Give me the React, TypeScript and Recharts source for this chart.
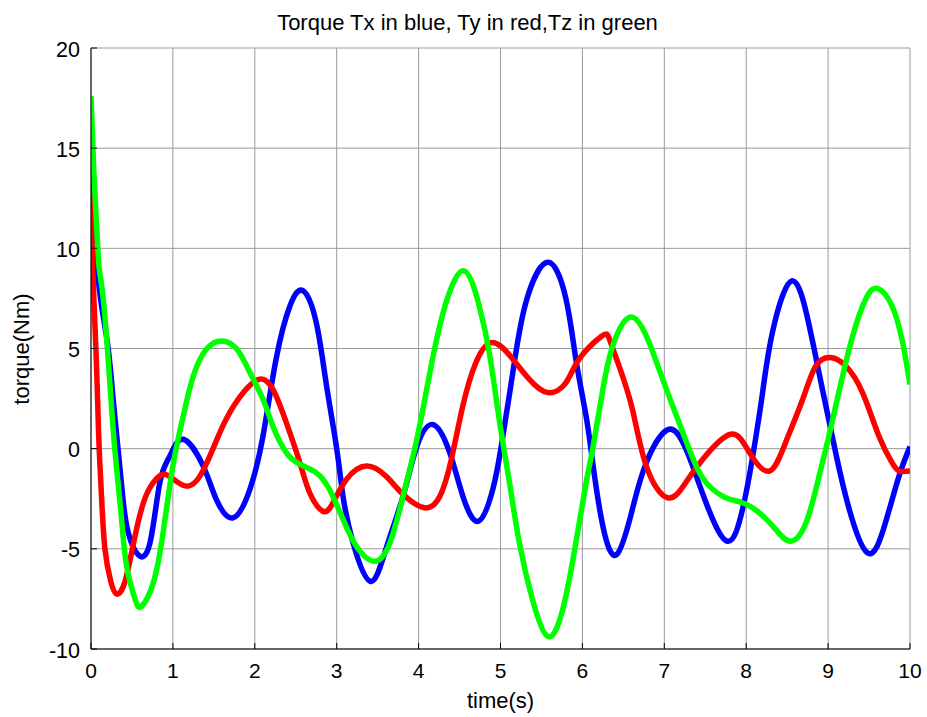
// Torque components Tx / Ty / Tz over time, MATLAB-style line plot

import { CartesianGrid, Line, LineChart, XAxis, YAxis } from "recharts";

const FONT = '"Liberation Sans", Arial, sans-serif';

const COLORS = {
  tx: "#0000FF",
  ty: "#FF0000",
  tz: "#00FF00",
};

const X_TICKS = [0, 1, 2, 3, 4, 5, 6, 7, 8, 9, 10];
const Y_TICKS = [-10, -5, 0, 5, 10, 15, 20];

// Tx (blue)
const txTime = [
  0, 0.03, 0.07, 0.13, 0.21, 0.27, 0.33, 0.39, 0.455, 0.577, 0.72, 0.84, 0.963, 1.126, 1.37, 1.53,
  1.735, 1.94, 2.1, 2.26, 2.43, 2.59, 2.75, 2.87, 3.0, 3.077, 3.2, 3.41, 3.6, 3.81, 3.97, 4.17,
  4.38, 4.54, 4.73, 4.906, 5.01, 5.15, 5.31, 5.577, 5.8, 5.92, 6.045, 6.126, 6.25, 6.42, 6.61,
  6.78, 7.06, 7.3, 7.51, 7.77, 7.955, 8.08, 8.2, 8.32, 8.557, 8.77, 8.93, 9.05, 9.215, 9.48, 9.7,
  9.866, 10,
];
const txValue = [
  12, 10.2, 9.0, 7.1, 5.0, 2.5, 0, -2.5, -4.2, -5.3, -4.7, -1.7, -0.37, 0.47, -0.87, -2.53,
  -3.45, -2.03, 0.63, 4.47, 7.13, 7.88, 6.3, 3.3, 0, -2.37, -4.7, -6.62, -5.03, -2.37, 0, 1.21,
  -0.2, -2.37, -3.62, -2.03, 0.13, 3.8, 7.3, 9.3, 7.47, 4.47, 1.63, -0.7, -3.87, -5.28, -3.03,
  -0.7, 0.97, -0.37, -2.7, -4.62, -3.03, -0.37, 2.8, 5.8, 8.38, 6.13, 2.97, 0.63, -2.37, -5.2, -3.7,
  -1.37, 0.1,
];

// Ty (red)
const tyTime = [
  0, 0.01, 0.03, 0.06, 0.08, 0.1, 0.13, 0.17, 0.24, 0.31, 0.41, 0.52, 0.64, 0.76, 0.88, 1.0,
  1.167, 1.33, 1.49, 1.65, 1.86, 2.06, 2.22, 2.385, 2.55, 2.67, 2.83, 2.955, 3.12, 3.36, 3.6,
  3.81, 4.07, 4.26, 4.4, 4.54, 4.7, 4.906, 5.15, 5.35, 5.577, 5.8, 5.96, 6.23, 6.33, 6.45, 6.61,
  6.78, 7.04, 7.26, 7.47, 7.81, 8.04, 8.28, 8.48, 8.69, 8.85, 9.03, 9.215, 9.42, 9.62, 9.78,
  9.87, 10,
];
const tyValue = [
  15, 11, 8, 5, 2.5, 0, -2.5, -5.0, -6.6, -7.25, -6.7, -4.7, -2.7, -1.7, -1.28, -1.5,
  -1.87, -1.37, 0, 1.47, 2.8, 3.47, 2.97, 1.3, -0.7, -2.2, -3.12, -2.7, -1.53, -0.87, -1.37,
  -2.28, -2.95, -2.37, -0.53, 2.13, 4.3, 5.3, 4.47, 3.47, 2.8, 3.3, 4.47, 5.6, 5.47, 4.1, 1.97,
  -0.87, -2.45, -1.7, -0.53, 0.72, -0.2, -1.12, 0.3, 2.47, 4.13, 4.55, 4.13, 2.8, 0.63, -0.7,
  -1.12, -1.12,
];

// Tz (green)
const tzTime = [
  0, 0.03, 0.05, 0.07, 0.1, 0.15, 0.23, 0.29, 0.37, 0.435, 0.54, 0.618, 0.76, 0.88, 1.0, 1.126,
  1.25, 1.41, 1.594, 1.78, 1.94, 2.1, 2.22, 2.385, 2.55, 2.75, 2.91, 3.077, 3.24, 3.46, 3.65,
  3.81, 3.97, 4.13, 4.3, 4.54, 4.74, 4.87, 4.99, 5.11, 5.23, 5.39, 5.577, 5.76, 5.92, 6.045,
  6.126, 6.25, 6.37, 6.57, 6.78, 6.98, 7.18, 7.39, 7.55, 7.75, 7.955, 8.16, 8.36, 8.54, 8.73,
  8.89, 9.01, 9.13, 9.3, 9.46, 9.6, 9.78, 9.91, 10,
];
const tzValue = [
  17.6, 14.3, 12.6, 11, 9, 7.47, 3.3, 0, -3.37, -5.87, -7.53, -7.87, -6.7, -4.2, -0.87, 1.63,
  3.63, 4.97, 5.38, 4.97, 3.8, 2.47, 1.13, -0.2, -0.78, -1.2, -2.03, -3.53, -4.87, -5.62, -4.7,
  -2.37, 0.3, 3.63, 6.8, 8.88, 7.13, 4.63, 1.3, -1.7, -4.7, -7.53, -9.37, -8.03, -4.7, -1.7,
  0, 2.97, 5.13, 6.55, 5.63, 3.47, 1.3, -0.87, -1.87, -2.45, -2.7, -3.2, -4.03, -4.62, -3.7,
  -1.37, 0.63, 2.8, 5.63, 7.47, 8.0, 7.13, 5.3, 3.2,
];

const zip = (ts: number[], vs: number[]) => ts.map((t, i) => ({ t, v: vs[i] }));

const txData = zip(txTime, txValue);
const tyData = zip(tyTime, tyValue);
const tzData = zip(tzTime, tzValue);

const W = 927;
const H = 717;
const GRID = "#9a9a9a";

function BottomTick({ x, y, payload }: any) {
  const ay = y - 29;
  return (
    <g>
      <line x1={x} x2={x} y1={ay} y2={ay - 6} stroke="#000" />
      <text x={x} y={y} textAnchor="middle" fontSize={21} fontFamily={FONT} fill="#000">
        {payload.value}
      </text>
    </g>
  );
}

function LeftTick({ x, y, payload }: any) {
  const ax = x + 10;
  return (
    <g>
      <line x1={ax} x2={ax + 6} y1={y} y2={y} stroke="#000" />
      <text x={x - 1} y={y + 8.5} textAnchor="end" fontSize={21.5} fontFamily={FONT} fill="#000">
        {payload.value}
      </text>
    </g>
  );
}

function TopTick({ x, y }: any) {
  return <line x1={x} x2={x} y1={y} y2={y + 5} stroke="#000" />;
}

function RightTick({ x, y }: any) {
  return <line x1={x} x2={x - 5} y1={y} y2={y} stroke="#000" />;
}

export default function App() {
  return (
    <div style={{ position: "absolute", left: 0, top: 0, width: W, height: H, background: "#fff" }}>
      <LineChart
        width={W}
        height={H}
        margin={{ top: 48, right: 17, left: 31, bottom: 28 }}
        style={{ position: "absolute", left: 0, top: 0 }}
      >
        <CartesianGrid xAxisId="b" yAxisId="l" stroke={GRID} strokeWidth={1} />
        <XAxis
          xAxisId="b"
          dataKey="t"
          type="number"
          domain={[0, 10]}
          ticks={X_TICKS}
          allowDataOverflow
          height={40}
          tickSize={0}
          tickMargin={29}
          axisLine={{ stroke: "#000" }}
          tick={<BottomTick />}
          interval={0}
        />
        <XAxis
          xAxisId="top"
          orientation="top"
          dataKey="t"
          type="number"
          domain={[0, 10]}
          ticks={X_TICKS}
          height={0}
          tickSize={0}
          tickMargin={0}
          axisLine={false}
          tick={<TopTick />}
          interval={0}
        />
        <YAxis
          yAxisId="l"
          type="number"
          domain={[-10, 20]}
          ticks={Y_TICKS}
          allowDataOverflow
          width={60}
          tickSize={0}
          tickMargin={10}
          axisLine={{ stroke: "#000" }}
          tick={<LeftTick />}
          interval={0}
        />
        <YAxis
          yAxisId="r"
          orientation="right"
          type="number"
          domain={[-10, 20]}
          ticks={Y_TICKS}
          width={0}
          tickSize={0}
          tickMargin={0}
          axisLine={false}
          tick={<RightTick />}
          interval={0}
        />
        <Line
          xAxisId="b"
          yAxisId="l"
          data={txData}
          dataKey="v"
          type="natural"
          stroke={COLORS.tx}
          strokeWidth={5.5}
          dot={false}
          isAnimationActive={false}
        />
        <Line
          xAxisId="b"
          yAxisId="l"
          data={tyData}
          dataKey="v"
          type="natural"
          stroke={COLORS.ty}
          strokeWidth={5.5}
          dot={false}
          isAnimationActive={false}
        />
        <Line
          xAxisId="b"
          yAxisId="l"
          data={tzData}
          dataKey="v"
          type="natural"
          stroke={COLORS.tz}
          strokeWidth={5.5}
          dot={false}
          isAnimationActive={false}
        />
      </LineChart>
      <div
        style={{
          position: "absolute",
          left: 0,
          width: 935,
          top: 10,
          textAlign: "center",
          fontFamily: FONT,
          fontSize: 22,
          lineHeight: "25px",
        }}
      >
        Torque Tx in blue, Ty in red,Tz in green
      </div>
      <div
        style={{
          position: "absolute",
          left: 91,
          width: 819,
          top: 688,
          textAlign: "center",
          fontFamily: FONT,
          fontSize: 22,
          lineHeight: "26px",
        }}
      >
        time(s)
      </div>
      <div
        style={{
          position: "absolute",
          left: 22,
          top: 349,
          transform: "translate(-50%, -50%) rotate(-90deg)",
          fontFamily: FONT,
          fontSize: 22,
          lineHeight: "26px",
          whiteSpace: "nowrap",
        }}
      >
        torque(Nm)
      </div>
    </div>
  );
}
